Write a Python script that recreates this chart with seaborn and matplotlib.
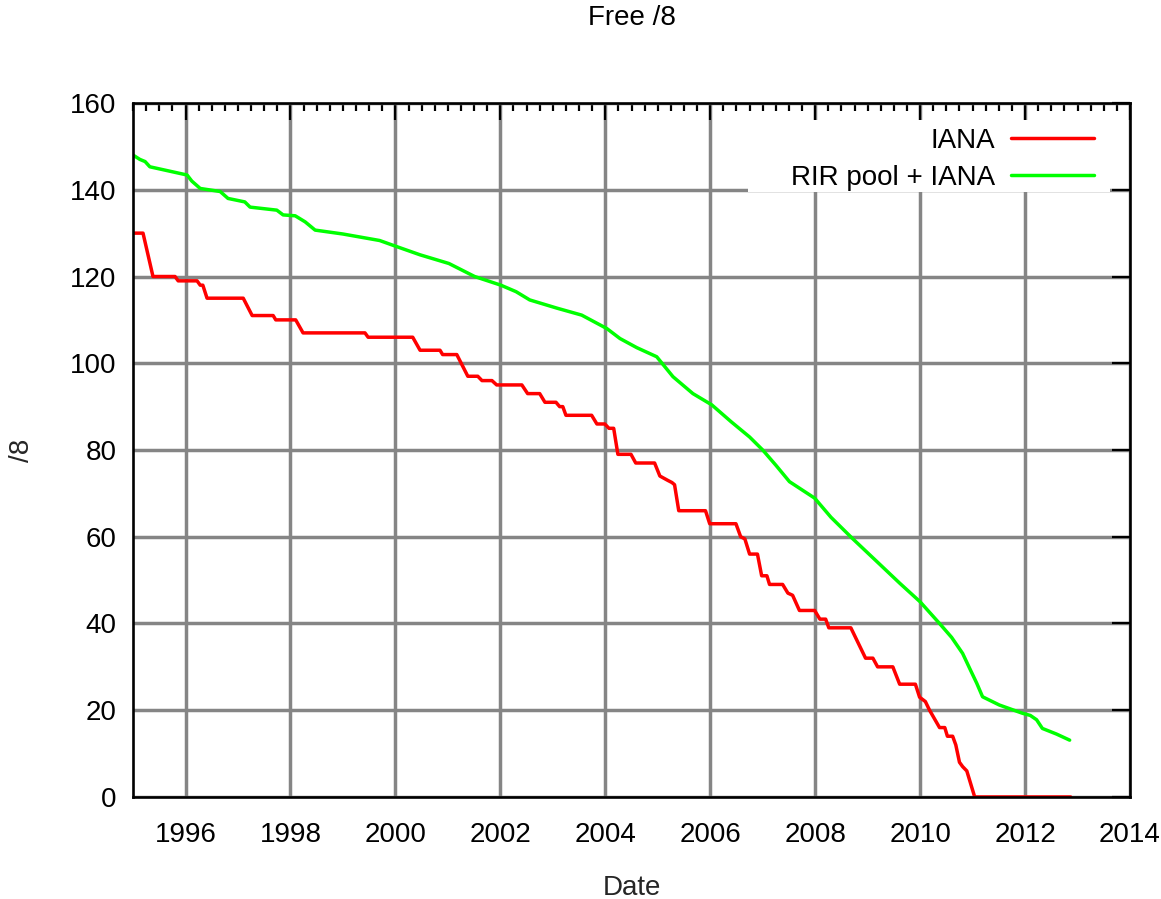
import pandas as pd
import seaborn as sns
import matplotlib.pyplot as plt
from matplotlib.ticker import MultipleLocator, FormatStrFormatter

# free /8 blocks held by IANA
iana_year = [1995.00, 1995.19, 1995.38, 1995.80, 1995.86, 1996.22, 1996.28, 1996.33,
             1996.41, 1997.10, 1997.27, 1997.67, 1997.72, 1998.10, 1998.24, 1999.42,
             1999.48, 2000.33, 2000.47, 2000.85, 2000.90, 2001.17, 2001.38, 2001.57,
             2001.65, 2001.84, 2001.93, 2002.41, 2002.52, 2002.75, 2002.85, 2003.06,
             2003.13, 2003.19, 2003.25, 2003.74, 2003.84, 2003.99, 2004.07, 2004.16,
             2004.24, 2004.49, 2004.58, 2004.94, 2005.04, 2005.19, 2005.27, 2005.32,
             2005.40, 2005.91, 2005.99, 2006.49, 2006.58, 2006.66, 2006.75, 2006.90,
             2006.98, 2007.08, 2007.13, 2007.38, 2007.48, 2007.57, 2007.70, 2007.99,
             2008.09, 2008.20, 2008.26, 2008.68, 2008.96, 2009.10, 2009.19, 2009.48,
             2009.61, 2009.91, 2009.99, 2010.10, 2010.18, 2010.37, 2010.47, 2010.52,
             2010.62, 2010.68, 2010.75, 2010.81, 2010.89, 2010.94, 2011.04, 2012.87]
iana_free = [130, 130, 120, 120, 119, 119, 118, 118,
             115, 115, 111, 111, 110, 110, 107, 107,
             106, 106, 103, 103, 102, 102, 97, 97,
             96, 96, 95, 95, 93, 93, 91, 91,
             90, 90, 88, 88, 86, 86, 85, 85,
             79, 79, 77, 77, 74, 73, 72.5, 72,
             66, 66, 63, 63, 60, 59.5, 56, 56,
             51, 51, 49, 49, 47, 46.5, 43, 43,
             41, 41, 39, 39, 32, 32, 30, 30,
             26, 26, 23, 22, 20, 16, 16, 14,
             14, 12, 8, 7, 6, 4, 0, 0]

# free /8 in RIR pools plus IANA
rir_year = [1995.00, 1995.13, 1995.23, 1995.32, 1996.03, 1996.12, 1996.28, 1996.66,
            1996.81, 1997.13, 1997.23, 1997.74, 1997.86, 1998.09, 1998.28, 1998.47,
            1999.00, 1999.70, 2000.00, 2000.47, 2001.02, 2001.51, 2002.01, 2002.30,
            2002.56, 2003.08, 2003.55, 2004.03, 2004.28, 2004.60, 2004.98, 2005.29,
            2005.67, 2006.03, 2006.40, 2006.75, 2007.00, 2007.25, 2007.51, 2007.99,
            2008.30, 2008.71, 2009.20, 2009.61, 2010.00, 2010.37, 2010.60, 2010.81,
            2010.95, 2011.08, 2011.19, 2011.51, 2011.95, 2012.10, 2012.22, 2012.33,
            2012.60, 2012.85]
rir_free = [148, 147, 146.5, 145.3, 143.4, 142, 140.3, 139.6,
            138, 137.2, 136, 135.3, 134.2, 134, 132.6, 130.7,
            129.8, 128.3, 127, 125, 123, 120, 118, 116.5,
            114.6, 112.7, 111.1, 108, 105.7, 103.6, 101.5, 96.9,
            93, 90.4, 86.5, 83, 80, 76.5, 72.7, 68.9,
            64.5, 59.6, 54, 49.3, 45, 40, 36.8, 33.1,
            29.5, 26.2, 23.1, 21.2, 19.3, 18.8, 17.8, 15.8,
            14.5, 13.1]

series_names = ['IANA', 'RIR pool + IANA']
series_colors = ['#ff0000', '#00ff00']

df = pd.concat([
    pd.DataFrame({'Date': iana_year, 'free': iana_free, 'series': series_names[0]}),
    pd.DataFrame({'Date': rir_year, 'free': rir_free, 'series': series_names[1]}),
], ignore_index=True)

sns.set_theme(style="white")
plt.rcParams['font.family'] = ['Liberation Sans', 'DejaVu Sans']
plt.rcParams['text.color'] = 'black'
fs = 20

fig = plt.figure(figsize=(11.61, 8.99), dpi=100)
ax = fig.add_axes([0.1146, 0.1135, 0.8587, 0.7719])

sns.lineplot(data=df, x='Date', y='free', hue='series', palette=series_colors,
             estimator=None, sort=False, linewidth=2.5, ax=ax)

ax.set_xlim(1995, 2014)
ax.set_ylim(0, 160)
ax.xaxis.set_major_locator(MultipleLocator(2))
ax.xaxis.set_minor_locator(MultipleLocator(0.25))
ax.xaxis.set_major_formatter(FormatStrFormatter('%d'))
ax.yaxis.set_major_locator(MultipleLocator(20))

ax.grid(True, which='major', color='#858585', linewidth=2.5)
ax.tick_params(axis='both', which='both', direction='in', top=True, right=True,
               color='black', labelcolor='black', labelsize=fs, width=1.6)
ax.tick_params(axis='x', which='major', length=12, pad=18)
ax.tick_params(axis='x', which='minor', length=6)
ax.tick_params(axis='y', which='major', length=13, pad=12)
for sp in ax.spines.values():
    sp.set_color('black')
    sp.set_linewidth(1.9)

ax.set_title('Free /8', fontsize=fs, pad=56)
ax.set_xlabel('Date', fontsize=fs)
ax.set_ylabel('/8', fontsize=fs)
ax.xaxis.set_label_coords(0.5, -0.112)
ax.yaxis.set_label_coords(-0.098, 0.5)

# opaque key background, like gnuplot's "set key opaque"
ax.add_patch(plt.Rectangle((0.617, 0.872), 0.363, 0.103, transform=ax.transAxes,
                           facecolor='white', edgecolor='none', zorder=1))

handles, labels = ax.get_legend_handles_labels()
leg = ax.legend(handles, labels, loc='upper right', bbox_to_anchor=(0.978, 0.984),
                frameon=False, markerfirst=False, handlelength=3.0,
                handletextpad=0.58, labelspacing=0.4, borderpad=0, fontsize=fs)
for ln in leg.get_lines():
    ln.set_linewidth(2.5)

fig.savefig('out.png', dpi=100)
